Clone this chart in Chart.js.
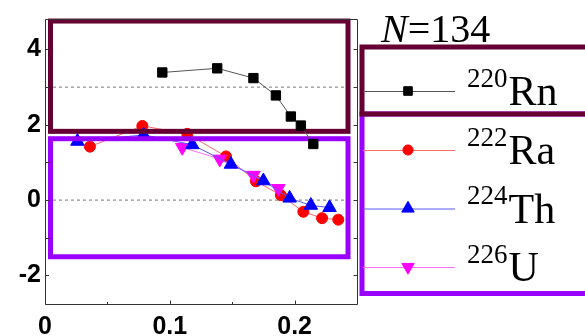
<!DOCTYPE html>
<html><head><meta charset="utf-8">
<style>html,body{margin:0;padding:0;background:#fff;overflow:hidden}canvas{display:block}</style>
<script src="https://cdn.jsdelivr.net/npm/chart.js@4.4.1/dist/chart.umd.min.js"></script>
</head><body>
<canvas id="c" width="585" height="336"></canvas>
<script>
// ---- data ----
const rnX = [0.094, 0.138, 0.167, 0.185, 0.197, 0.205, 0.215];
const rnY = [3.39, 3.50, 3.24, 2.78, 2.22, 1.98, 1.49];
const raX = [0.036, 0.078, 0.114, 0.145, 0.169, 0.189, 0.207, 0.222, 0.235];
const raY = [1.42, 1.97, 1.76, 1.16, 0.50, 0.13, -0.31, -0.48, -0.52];
const thX = [0.026, 0.079, 0.118, 0.149, 0.175, 0.196, 0.213, 0.228];
const thY = [1.56, 1.73, 1.47, 0.95, 0.51, 0.05, -0.14, -0.20];
const uX = [0.110, 0.140, 0.167, 0.187];
const uY = [1.40, 1.09, 0.66, 0.31];
const xTicks = [0, 0.1, 0.2];
const xMinorTicks = [0.05, 0.15];
const yTicks = [-2, 0, 2, 4];
const yMinorTicks = [-1, 1, 3];
const refLineY = [0, 3];
const refLineX = [0.0064, 0.2416];
const seriesMass = ['220', '222', '224', '226'];
const seriesElem = ['Rn', 'Ra', 'Th', 'U'];
const titleVar = 'N';
const titleVal = '=134';
// group frames (data units)
const frameRnBox = {x0: 0.0044, x1: 0.2428, y0: 1.826, y1: 4.756};
const frameHeavyBox = {x0: 0.0044, x1: 0.2428, y0: -1.505, y1: 1.63};

const MAROON = '#660033', PURPLE = '#9900ff';
const styles = {
  Rn: {line: '#555555', fill: '#000000', ps: 'rect', r: 6.6, rot: 0},
  Ra: {line: '#ff6a6a', fill: '#ff0000', ps: 'circle', r: 5.5, rot: 0},
  Th: {line: '#5a5aff', fill: '#0000ff', ps: 'triangle', r: 7.8, rot: 0},
  U:  {line: '#ff70ff', fill: '#ff00ff', ps: 'triangle', r: 7.8, rot: 180}
};
const pts = (xs, ys) => xs.map((x, i) => ({x, y: ys[i]}));
function ds(key, xs, ys) {
  const s = styles[key];
  return {label: key, data: pts(xs, ys), showLine: true, borderColor: s.line, borderWidth: 1,
    pointStyle: s.ps, pointRadius: s.r, pointRotation: s.rot, pointBackgroundColor: s.fill,
    pointBorderColor: s.fill, pointBorderWidth: 1, tension: 0};
}
const refSets = refLineY.map(v => ({label: 'ref', data: refLineX.map(x => ({x, y: v})), showLine: true,
  borderColor: '#777777', borderWidth: 1, borderDash: [3, 3], pointRadius: 0}));

const framesPlugin = {
  id: 'frames',
  afterDatasetDraw(chart, args) {
    if (args.index !== 1) return;
    const ctx = chart.ctx, xs = chart.scales.x, ys = chart.scales.y;
    ctx.save();
    ctx.lineWidth = 5;
    ctx.lineJoin = 'miter';
    const box = (f, c) => {
      const l = xs.getPixelForValue(f.x0), r = xs.getPixelForValue(f.x1);
      const t = ys.getPixelForValue(f.y1), b = ys.getPixelForValue(f.y0);
      ctx.strokeStyle = c; ctx.strokeRect(l, t, r - l, b - t);
    };
    box(frameHeavyBox, PURPLE);
    box(frameRnBox, MAROON);
    ctx.restore();
  },
  afterDraw(chart) {
    const ctx = chart.ctx, a = chart.chartArea, xs = chart.scales.x, ys = chart.scales.y;
    ctx.save();
    // frame & inward ticks
    ctx.strokeStyle = '#333'; ctx.lineWidth = 1;
    ctx.beginPath();
    const L = Math.round(a.left) + 0.5, R = Math.round(a.right) + 0.5, T = Math.round(a.top) + 0.5, B = Math.round(a.bottom) + 0.5;
    ctx.moveTo(L, T); ctx.lineTo(L, B); ctx.lineTo(R, B); ctx.lineTo(R, T); ctx.lineTo(L, T);
    xTicks.concat(xMinorTicks).forEach(v => {
      const p = Math.round(xs.getPixelForValue(v)) + 0.5;
      const len = xTicks.includes(v) ? 4 : 2.5;
      ctx.moveTo(p, B); ctx.lineTo(p, B - len);
    });
    yTicks.concat(yMinorTicks).forEach(v => {
      const p = Math.round(ys.getPixelForValue(v)) + 0.5;
      ctx.moveTo(L, p); ctx.lineTo(L + 3.5, p);
      ctx.moveTo(R, p); ctx.lineTo(R - 4, p);
    });
    ctx.stroke();

    // legend frames
    const lx = a.right + 5;
    ctx.lineWidth = 5;
    ctx.strokeStyle = PURPLE; ctx.strokeRect(lx, 114, 300, 179.5);
    ctx.strokeStyle = MAROON; ctx.strokeRect(lx, 47, 300, 67);

    // title
    ctx.fillStyle = '#000';
    ctx.textBaseline = 'alphabetic';
    ctx.font = 'italic 40px "Liberation Serif"';
    ctx.fillText(titleVar, lx + 19, 42);
    const nw = ctx.measureText(titleVar).width;
    ctx.font = '40px "Liberation Serif"';
    ctx.fillText(titleVal, lx + 19 + nw, 42);

    // legend entries
    const rows = [91, 150, 208.5, 267];
    seriesElem.forEach((k, i) => {
      const s = styles[k], y = rows[i];
      ctx.strokeStyle = s.line; ctx.lineWidth = 1;
      ctx.beginPath(); ctx.moveTo(lx + 1, y + 0.5); ctx.lineTo(lx + 93, y + 0.5); ctx.stroke();
      ctx.fillStyle = s.fill; ctx.strokeStyle = s.fill;
      Chart.helpers.drawPoint(ctx, {pointStyle: s.ps, radius: s.r * 0.92, rotation: s.rot, borderWidth: 1}, lx + 46, y);
      ctx.fillStyle = '#000';
      ctx.font = '27px "Liberation Serif"';
      ctx.fillText(seriesMass[i], lx + 105, y - 4.5);
      const mw = ctx.measureText(seriesMass[i]).width;
      ctx.font = '42px "Liberation Serif"';
      ctx.fillText(k, lx + 105 + mw + 1, y + 14);
    });
    ctx.restore();
  }
};

new Chart(document.getElementById('c'), {
  type: 'scatter',
  data: {datasets: [ds('Rn', rnX, rnY), ds('Th', thX, thY), ds('U', uX, uY), ds('Ra', raX, raY)].concat(refSets)},
  options: {
    responsive: false, animation: false, devicePixelRatio: 1,
    layout: {padding: {left: 0, right: 228, top: 14, bottom: 0}},
    plugins: {legend: {display: false}, tooltip: {enabled: false}},
    scales: {
      x: {type: 'linear', min: 0, max: 0.25,
        afterBuildTicks: s => { s.ticks = xTicks.map(v => ({value: v})); },
        afterFit: s => { s.height = 32; },
        grid: {display: false, drawTicks: false}, border: {display: false},
        ticks: {autoSkip: false, maxRotation: 0, padding: 8, color: '#000',
          font: {family: 'Liberation Sans', size: 25, weight: 'bold'}}},
      y: {type: 'linear', min: -2.76, max: 4.81,
        afterBuildTicks: s => { s.ticks = yTicks.map(v => ({value: v})); },
        afterFit: s => { s.width = 45; },
        grid: {display: false, drawTicks: false}, border: {display: false},
        ticks: {padding: 4, color: '#000',
          font: {family: 'Liberation Sans', size: 25, weight: 'bold'}}}
    }
  },
  plugins: [framesPlugin]
});
</script>
</body></html>
